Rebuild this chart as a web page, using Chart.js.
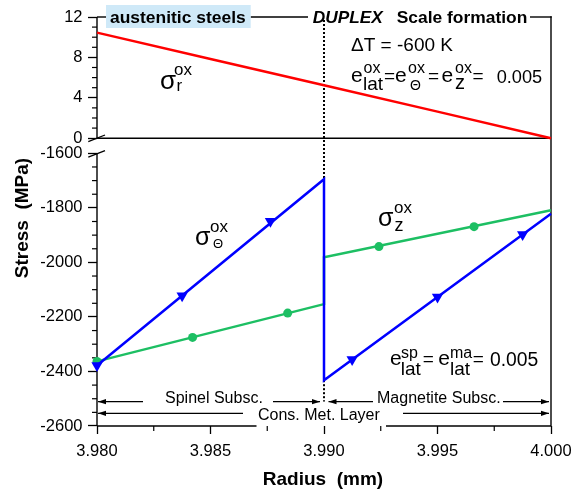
<!DOCTYPE html>
<html><head><meta charset="utf-8">
<script src="https://cdn.jsdelivr.net/npm/chart.js@4"></script>
<style>html,body{margin:0;padding:0;background:#fff}#wrap{width:572px;height:490px;position:relative}</style>
</head><body><div id="wrap"><canvas id="c"></canvas></div>
<script>
const FONT = "'Liberation Sans', Arial, Helvetica, sans-serif";

// ---- data ----
const RADIUS_TICKS = [3.980, 3.985, 3.990, 3.995, 4.000];
const TOP_TICKS = [0, 4, 8, 12];
const BOTTOM_TICKS = [-1600, -1800, -2000, -2200, -2400, -2600];

// sigma_r (radial stress), top panel
const R_RADIAL = [3.980, 3.985, 3.990, 3.995, 4.000];
const S_RADIAL = [10.45, 7.85, 5.25, 2.63, 0.0];

// sigma_theta (hoop stress), line vertices and marker points
const R_HOOP = [3.980, 3.990, 3.990, 4.000];
const S_HOOP = [-2378, -1695, -2432, -1822];
const R_HOOP_MARK = [3.98000, 3.98375, 3.98764, 3.99124, 3.99500, 3.99875];
const S_HOOP_MARK = [-2378, -2122, -1849, -2356, -2127, -1898];

// sigma_z (axial stress), line vertices and marker points
const R_AXIAL = [3.980, 3.990, 3.990, 4.000];
const S_AXIAL = [-2363, -2153, -1981, -1809];
const R_AXIAL_MARK = [3.98000, 3.98421, 3.98840, 3.99242, 3.99661];
const S_AXIAL_MARK = [-2363, -2275, -2186, -1942, -1869];

const RED = '#ff0000', BLUE = '#0000ff', GREEN = '#1dbf63';
const zip = (xs, ys) => xs.map((x, i) => ({x, y: ys[i]}));

Chart.defaults.font.family = FONT;
Chart.defaults.color = '#000';

function T(ctx, s, x, y, size, opt = {}) {
  ctx.font = (opt.italic ? 'italic ' : '') + (opt.bold ? 'bold ' : '') + size + 'px ' + FONT;
  ctx.fillStyle = opt.color || '#000';
  ctx.textAlign = opt.align || 'left';
  ctx.textBaseline = 'alphabetic';
  if (opt.w) {
    const m = ctx.measureText(s).width;
    ctx.save(); ctx.translate(x, y); ctx.scale(opt.w / m, 1); ctx.fillText(s, 0, 0); ctx.restore();
  } else ctx.fillText(s, x, y);
}
function seg(ctx, x1, y1, x2, y2) { ctx.beginPath(); ctx.moveTo(x1, y1); ctx.lineTo(x2, y2); ctx.stroke(); }
function arrow(ctx, x1, x2, y) {
  seg(ctx, x1, y, x2, y);
  const d = Math.sign(x2 - x1);
  ctx.beginPath(); ctx.moveTo(x2, y); ctx.lineTo(x2 - d * 8, y - 2.6); ctx.lineTo(x2 - d * 8, y + 2.6); ctx.closePath(); ctx.fill();
}

const deco = {
  id: 'deco',
  beforeDatasetsDraw(chart) {
    const {ctx, scales: {x, yTop, yBot}} = chart;
    const L = x.getPixelForValue(3.98), R = x.getPixelForValue(4.0);
    const y12 = yTop.getPixelForValue(12), y0 = yTop.getPixelForValue(0);
    const yB1 = yBot.getPixelForValue(-1600), yB2 = yBot.getPixelForValue(-2600);
    ctx.save();
    ctx.strokeStyle = '#000'; ctx.fillStyle = '#000'; ctx.lineWidth = 1.4;
    seg(ctx, L, y12, L, y0);
    seg(ctx, L, yB1, L, yB2);
    seg(ctx, L, y0, R, y0);
    seg(ctx, L, yB2, 256.5, yB2);
    seg(ctx, 386, yB2, R, yB2);
    seg(ctx, R, y12 - 0.7, R, yB2);
    seg(ctx, L, y12, 106, y12);
    seg(ctx, 250.5, y12, 308, y12);
    seg(ctx, 530, y12, R + 0.7, y12);
    // axis break marks
    ctx.lineWidth = 1.3;
    seg(ctx, L - 8.7, y0 + 3.4, L + 8, y0 - 3.2);
    seg(ctx, L - 8.7, yB1 + 3.8, L + 8, yB1 - 2.8);
    // minor ticks
    ctx.lineWidth = 1.2;
    for (let v = 1; v < 12; v++) if (v % 4) { const p = yTop.getPixelForValue(v); seg(ctx, L - 5, p, L, p); }
    for (let v = -2550; v < -1600; v += 50) if (v % 200) { const p = yBot.getPixelForValue(v); seg(ctx, L - 5, p, L, p); }
    for (let k = 1; k < 8; k += 2) { const p = x.getPixelForValue(3.98 + k * 0.0025); seg(ctx, p, yB2, p, yB2 + 5); }
    // dotted boundary line at r = 3.990
    const xd = x.getPixelForValue(3.99);
    ctx.setLineDash([2, 2]); ctx.lineWidth = 2;
    seg(ctx, xd, 20, xd, yBot.getPixelForValue(S_HOOP[1]));
    seg(ctx, xd, yBot.getPixelForValue(S_HOOP[2]), xd, 401.5);
    ctx.restore();
  },
  afterDatasetsDraw(chart) {
    const {ctx, scales: {x}} = chart;
    ctx.save();
    // top labels
    ctx.fillStyle = '#cfe9f8';
    ctx.fillRect(106, 5, 144.7, 23);
    T(ctx, 'austenitic steels', 110, 22.7, 17, {bold: true, w: 135.7});
    T(ctx, 'DUPLEX', 312.7, 22.7, 17, {bold: true, italic: true, w: 70});
    T(ctx, 'Scale formation', 396.7, 22.7, 17, {bold: true, w: 130.7});
    // conditions
    T(ctx, '\u0394T = -600 K', 351, 50.7, 18, {w: 102});
    T(ctx, 'e', 351, 82, 21);
    T(ctx, 'ox', 363.5, 72.5, 16);
    T(ctx, 'lat', 363, 89.5, 19);
    T(ctx, '=', 384, 82, 19);
    T(ctx, 'e', 395, 82, 21);
    T(ctx, 'ox', 408, 72.5, 16);
    T(ctx, '\u0398', 410, 89.5, 14);
    T(ctx, '=', 428, 82, 19);
    T(ctx, 'e', 441.5, 82, 21);
    T(ctx, 'ox', 455, 72.5, 16);
    T(ctx, 'z', 455, 88.5, 20);
    T(ctx, '=', 472.5, 82, 19);
    T(ctx, '0.005', 496.7, 82.5, 19, {w: 45.5});
    // curve labels
    T(ctx, '\u03C3', 160, 89, 26);
    T(ctx, 'ox', 174, 75, 17);
    T(ctx, 'r', 176.5, 91, 17);
    T(ctx, '\u03C3', 195, 245, 25);
    T(ctx, 'ox', 210, 231.5, 17);
    T(ctx, '\u0398', 213, 248, 13);
    T(ctx, '\u03C3', 378, 226, 25);
    T(ctx, 'ox', 394, 213, 17);
    T(ctx, 'z', 394.5, 230.5, 18);
    // lattice misfit
    T(ctx, 'e', 390, 365, 21);
    T(ctx, 'sp', 401, 358, 16);
    T(ctx, 'lat', 400.7, 375, 19);
    T(ctx, '=', 422.7, 365, 19);
    T(ctx, 'e', 438.3, 365, 21);
    T(ctx, 'ma', 450, 358, 16);
    T(ctx, 'lat', 450, 375, 19);
    T(ctx, '=', 472.7, 365, 19);
    T(ctx, '0.005', 490, 365.5, 19.5, {w: 48.3});
    // layer arrows
    const xa = x.getPixelForValue(3.98) + 1, xb = x.getPixelForValue(3.99), xc = x.getPixelForValue(4.0) - 2;
    ctx.strokeStyle = '#000'; ctx.fillStyle = '#000'; ctx.lineWidth = 1.3;
    const r1 = 401.7, r2 = 413.3;
    arrow(ctx, 143, xa, r1);
    T(ctx, 'Spinel Subsc.', 165, 403, 16);
    arrow(ctx, 273, xb - 4, r1);
    arrow(ctx, 373, xb + 4.5, r1);
    T(ctx, 'Magnetite Subsc.', 377, 403, 16);
    ctx.fillStyle = '#000';
    arrow(ctx, 503, xc, r1);
    arrow(ctx, 243, xa, r2);
    T(ctx, 'Cons. Met. Layer', 258, 419.5, 16);
    ctx.fillStyle = '#000';
    arrow(ctx, 403, xc, r2);
    // axis titles
    T(ctx, 'Radius  (mm)', 323, 485, 19, {bold: true, align: 'center'});
    ctx.translate(28, 218); ctx.rotate(-Math.PI / 2);
    T(ctx, 'Stress  (MPa)', 0, 0, 19, {bold: true, align: 'center'});
    ctx.restore();
  }
};

const yTicks = {font: {size: 16.5}, color: '#000', padding: 5.5, callback: v => String(v)};
const tickGrid = (len) => ({display: true, drawOnChartArea: false, drawTicks: true, tickLength: len, tickColor: '#000', tickWidth: 1.3});

new Chart(document.getElementById('c'), {
  type: 'scatter',
  data: {
    datasets: [
      {data: zip(R_HOOP_MARK, S_HOOP_MARK), yAxisID: 'yBot', showLine: false, pointStyle: 'triangle', pointRotation: 180,
       pointRadius: 6.5, pointBackgroundColor: BLUE, pointBorderColor: BLUE, pointBorderWidth: 0, clip: false},
      {data: zip(R_HOOP, S_HOOP), yAxisID: 'yBot', showLine: true, borderColor: BLUE, borderWidth: 2.5, pointRadius: 0, tension: 0, clip: false},
      {data: zip(R_AXIAL_MARK, S_AXIAL_MARK), yAxisID: 'yBot', showLine: false, pointStyle: 'circle',
       pointRadius: 4.5, pointBackgroundColor: GREEN, pointBorderColor: GREEN, pointBorderWidth: 0, clip: false},
      {data: zip(R_AXIAL, S_AXIAL), yAxisID: 'yBot', showLine: true, borderColor: GREEN, borderWidth: 2.5, pointRadius: 0, tension: 0, clip: false},
      {data: zip(R_RADIAL, S_RADIAL), yAxisID: 'yTop', showLine: true, borderColor: RED, borderWidth: 2.5, pointRadius: 0, tension: 0, clip: false}
    ]
  },
  options: {
    responsive: true, maintainAspectRatio: false, animation: false, devicePixelRatio: 1,
    layout: {padding: {top: 17, right: 21, left: 0, bottom: 0}},
    plugins: {legend: {display: false}, tooltip: {enabled: false}},
    scales: {
      x: {type: 'linear', position: 'bottom', min: 3.98, max: 4.0,
          afterBuildTicks: s => { s.ticks = RADIUS_TICKS.map(v => ({value: v})); },
          ticks: {callback: v => Number(v).toFixed(3), font: {size: 16.5}, color: '#000', padding: 8, maxRotation: 0, autoSkip: false},
          grid: tickGrid(8), border: {display: false},
          afterFit: s => { s.height = 64; s.paddingLeft = 0; s.paddingRight = 0; }},
      yTop: {type: 'linear', position: 'left', stack: 'v', stackWeight: 1, weight: 1, min: -1.5, max: 12,
          afterBuildTicks: s => { s.ticks = TOP_TICKS.map(v => ({value: v})); },
          ticks: yTicks, grid: tickGrid(9), border: {display: false},
          afterFit: s => { s.width = 97; s.paddingTop = 0; s.paddingBottom = 0; }},
      yBot: {type: 'linear', position: 'left', stack: 'v', stackWeight: 2, weight: 0, min: -2600, max: -1600,
          afterBuildTicks: s => { s.ticks = BOTTOM_TICKS.map(v => ({value: v})); },
          ticks: yTicks, grid: tickGrid(9), border: {display: false},
          afterFit: s => { s.width = 97; s.paddingTop = 0; s.paddingBottom = 0; }}
    }
  },
  plugins: [deco]
});
</script>
</body></html>
